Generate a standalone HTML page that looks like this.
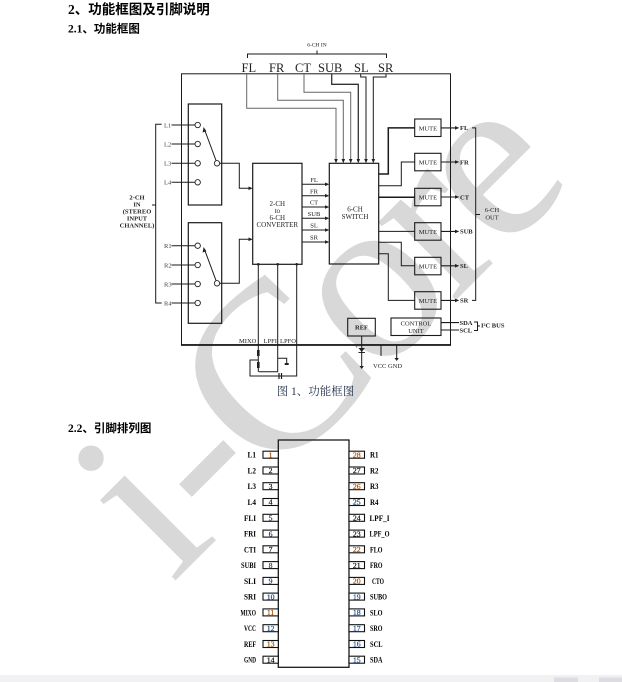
<!DOCTYPE html>
<html>
<head>
<meta charset="utf-8">
<style>
html,body{margin:0;padding:0;background:#fff;}
body{width:622px;height:682px;overflow:hidden;position:relative;}
svg{position:absolute;left:0;top:0;}
.s{font-family:"Liberation Serif",serif;}
.b{font-family:"Liberation Serif",serif;font-weight:bold;}
.h{font-family:"Liberation Serif","Noto Sans CJK SC",sans-serif;font-weight:bold;}
.c{font-family:"Liberation Serif","Noto Serif CJK SC",serif;}
</style>
</head>
<body>
<svg width="622" height="682" viewBox="0 0 622 682" xmlns="http://www.w3.org/2000/svg">
<!-- bottom band -->
<rect x="0" y="675" width="622" height="7" fill="#f1f1f4"/>
<rect x="554" y="677.5" width="24" height="4.5" fill="#dcdce2"/>
<rect x="599" y="677.5" width="23" height="4.5" fill="#dcdce2"/>

<!-- watermark -->
<text class="s" x="172" y="584" transform="rotate(-45 172 584)" font-size="240" fill="#d8d8d8">i-<tspan dx="-6">C</tspan><tspan dx="-12">o</tspan><tspan dx="-12">r</tspan><tspan dx="-12">e</tspan></text>

<!-- headings -->
<text class="h" x="68" y="14" font-size="13.5" fill="#000">2、功能框图及引脚说明</text>
<text class="h" x="68" y="32.5" font-size="11.5" fill="#000">2.1、功能框图</text>
<text class="h" x="68" y="432" font-size="11.5" fill="#000">2.2、引脚排列图</text>

<g stroke="#1a1a1a" fill="none" stroke-width="1">
<!-- 6-CH IN bracket -->
<path d="M247.5,58 V54 H386.5 V58 M317,54 V50.5"/>
<!-- outer box -->
<rect x="181.5" y="73.8" width="269" height="271"/>
<path d="M181,345 H451" stroke-width="1.8"/>
<!-- input lines to switch -->
<path d="M246.7,74 V108.3 H336 V159" stroke="#666"/>
<path d="M277.7,74 V100.3 H343.3 V159" stroke="#666"/>
<path d="M304,74 V92.3 H350.7 V159" stroke="#666"/>
<path d="M331.7,74 V84.3 H358.3 V159" stroke="#333" stroke-width="1.3"/>
<path d="M360.7,74 V77 H366 V159"/>
<path d="M386,74 V77 H373.3 V159"/>
<!-- left switch boxes -->
<rect x="188.3" y="104" width="33.4" height="101" stroke-width="1.2"/>
<rect x="188.3" y="222.7" width="33.4" height="100.6" stroke-width="1.2"/>
<!-- input lines -->
<path d="M171.5,125 H195 M171.5,144 H195 M171.5,163.3 H195 M171.5,182.3 H195"/>
<path d="M171.5,245.7 H195 M171.5,265 H195 M171.5,284 H195 M171.5,303 H195"/>
<!-- wipers -->
<path d="M216,160.5 L204.5,129.5 M216,280.5 L204.5,249.5"/>
<!-- switch outputs -->
<path d="M219.7,163.3 H239.3 V188.3 H249"/>
<path d="M219.7,283.3 H239.3 V239.3 H249"/>
<!-- left bracket -->
<path d="M161.7,124.3 H155.7 V303 H161.7 M155.7,205 H152"/>
<!-- converter -->
<rect x="252.7" y="163.3" width="49.3" height="101" stroke-width="1.2"/>
<!-- converter outputs -->
<path d="M302,184.3 H325 M302,195.7 H325 M302,207 H325 M302,218.3 H325 M302,230 H325 M302,242 H325"/>
<!-- switch -->
<rect x="329.3" y="163.3" width="49.4" height="100.7" stroke-width="1.2"/>
<!-- switch outputs -->
<path d="M378.7,174 H388.3 V127.9 H414.7" stroke-width="1.5"/>
<path d="M378.7,185.7 H401.3 V162 H414.7"/>
<path d="M378.7,197.3 H414.7" stroke-width="1.5"/>
<path d="M378.7,231.4 H414.7"/>
<path d="M378.7,242.3 H401.3 V265.8 H414.7"/>
<path d="M378.7,253.7 H388.3 V300.4 H414.7"/>
<!-- mute boxes -->
<rect x="414.7" y="119" width="26.3" height="17.5" stroke-width="1.1"/>
<rect x="414.7" y="153.3" width="26.3" height="17.5" stroke-width="1.1"/>
<rect x="414.7" y="188.3" width="26.3" height="17.5" stroke-width="1.1"/>
<rect x="414.7" y="222.7" width="26.3" height="17.5" stroke-width="1.1"/>
<rect x="414.7" y="257.3" width="26.3" height="17.5" stroke-width="1.1"/>
<rect x="414.7" y="291.7" width="26.3" height="17.5" stroke-width="1.1"/>
<!-- mute outputs -->
<path d="M441,127.9 H455 M441,162 H455 M441,197 H455 M441,231.4 H455 M441,265.8 H455 M441,300.4 H455" stroke-width="1.1"/>
<!-- right bracket -->
<path d="M472,127.9 H475.7 V300.4 H472 M475.7,214.5 H480"/>
<!-- converter bottom pins -->
<path d="M258.3,264.3 V372 M277.7,264.3 V371.7 H259 M296.7,264.3 V376 H250 V360 H258.3"/>
<path d="M277.7,358.3 H286.7 V364"/>
<path d="M279,373 V379 M281.5,373 V379" stroke-width="1.2"/>
<!-- REF / CONTROL -->
<rect x="347.7" y="318.3" width="27.6" height="17.7" stroke-width="1.1"/>
<rect x="391" y="318" width="50" height="17.5" stroke-width="1.1"/>
<path d="M361.7,336 V368"/>
<path d="M381,345 V356"/>
<path d="M396.7,345 V360"/>
<path d="M441,322.6 H459 M441,330 H459" stroke-width="1.1"/>
<path d="M474,322 H477.5 V330.5 H474 M477.5,326 H480"/>
<!-- pin box -->
<rect x="278.3" y="440" width="70.7" height="227.3" stroke-width="1.3"/>
</g>

<!-- resistors / small parts -->
<g fill="#222">
<rect x="257" y="350" width="2.6" height="6"/>
<rect x="257" y="362" width="2.6" height="6"/>
<rect x="284.7" y="363" width="4" height="2"/>
<polygon points="358.5,348 364.9,348 361.7,352"/>
<rect x="358.5" y="352" width="6.4" height="1"/>
<polygon points="359.5,366 363.9,366 361.7,369"/>
<polygon points="394.5,358 398.9,358 396.7,361"/>
<!-- dots -->
<circle cx="258.3" cy="264.3" r="1.3"/>
<circle cx="277.7" cy="264.3" r="1.3"/>
<circle cx="296.7" cy="264.3" r="1.3"/>
<!-- down arrows into switch -->
<polygon points="334.2,159 337.8,159 336,163.3"/>
<polygon points="341.5,159 345.1,159 343.3,163.3"/>
<polygon points="348.9,159 352.5,159 350.7,163.3"/>
<polygon points="356.5,159 360.1,159 358.3,163.3"/>
<polygon points="364.2,159 367.8,159 366,163.3"/>
<polygon points="371.5,159 375.1,159 373.3,163.3"/>
<!-- converter input arrows -->
<polygon points="248.5,186.5 252.7,188.3 248.5,190.1"/>
<polygon points="248.5,237.5 252.7,239.3 248.5,241.1"/>
<!-- converter output arrows -->
<polygon points="325,182.5 329.3,184.3 325,186.1"/>
<polygon points="325,193.9 329.3,195.7 325,197.5"/>
<polygon points="325,205.2 329.3,207 325,208.8"/>
<polygon points="325,216.5 329.3,218.3 325,220.1"/>
<polygon points="325,228.2 329.3,230 325,231.8"/>
<polygon points="325,240.2 329.3,242 325,243.8"/>
<!-- mute output arrows -->
<polygon points="455,126.1 459.3,127.9 455,129.7"/>
<polygon points="455,160.2 459.3,162 455,163.8"/>
<polygon points="455,195.2 459.3,197 455,198.8"/>
<polygon points="455,229.6 459.3,231.4 455,233.2"/>
<polygon points="455,264 459.3,265.8 455,267.6"/>
<polygon points="455,298.6 459.3,300.4 455,302.2"/>
<!-- wiper arrowheads -->
<polygon points="203.6,127 202.6,132.5 206.4,131.3"/>
<polygon points="203.6,247 202.6,252.5 206.4,251.3"/>
</g>

<!-- contact circles -->
<g fill="#fff" stroke="#222" stroke-width="0.9">
<circle cx="197.7" cy="125" r="2.7"/>
<circle cx="197.7" cy="144" r="2.7"/>
<circle cx="197.7" cy="163.3" r="2.7"/>
<circle cx="197.7" cy="182.3" r="2.7"/>
<circle cx="217" cy="163.3" r="2.7"/>
<circle cx="197.7" cy="245.7" r="2.7"/>
<circle cx="197.7" cy="265" r="2.7"/>
<circle cx="197.7" cy="284" r="2.7"/>
<circle cx="197.7" cy="303" r="2.7"/>
<circle cx="217" cy="283.3" r="2.7"/>
</g>

<!-- diagram text -->
<g class="s" fill="#222">
<text x="317" y="46.5" font-size="5.5" text-anchor="middle">6-CH IN</text>
<text x="241.5" y="72" font-size="12.5">FL</text>
<text x="269" y="72" font-size="12.5">FR</text>
<text x="295" y="72" font-size="12.5">CT</text>
<text x="318" y="72" font-size="12.5">SUB</text>
<text x="354" y="72" font-size="12.5">SL</text>
<text x="378" y="72" font-size="12.5">SR</text>

<g font-size="6.5" fill="#444">
<text x="164" y="127.3">L1</text>
<text x="164" y="146.3">L2</text>
<text x="164" y="165.6">L3</text>
<text x="164" y="184.6">L4</text>
<text x="164" y="248">R1</text>
<text x="164" y="267.3">R2</text>
<text x="164" y="286.3">R3</text>
<text x="164" y="305.3">R4</text>
</g>

<g font-size="7" text-anchor="middle">
<text x="277.3" y="206">2-CH</text>
<text x="277.3" y="213">to</text>
<text x="277.3" y="220">6-CH</text>
<text x="277.3" y="227">CONVERTER</text>
<text x="355" y="211.5">6-CH</text>
<text x="355" y="219">SWITCH</text>
</g>
<g font-size="6.5" text-anchor="middle">
<text x="314" y="182">FL</text>
<text x="314" y="193.4">FR</text>
<text x="314" y="204.7">CT</text>
<text x="314" y="216">SUB</text>
<text x="314" y="227.7">SL</text>
<text x="314" y="239.7">SR</text>
<text x="427.9" y="130.3">MUTE</text>
<text x="427.9" y="164.6">MUTE</text>
<text x="427.9" y="199.6">MUTE</text>
<text x="427.9" y="234">MUTE</text>
<text x="427.9" y="268.6">MUTE</text>
<text x="427.9" y="303">MUTE</text>
<text x="492" y="212.2">6-CH</text>
<text x="492" y="219.5">OUT</text>
<text x="361.5" y="329.6" font-weight="bold">REF</text>
<text x="416" y="325.3">CONTROL</text>
<text x="416" y="333">UNIT</text>
</g>
<g font-size="6.5" font-weight="bold">
<text x="460" y="130.2">FL</text>
<text x="460" y="164.3">FR</text>
<text x="460" y="199.3">CT</text>
<text x="460" y="233.7">SUB</text>
<text x="460" y="268.1">SL</text>
<text x="460" y="302.7">SR</text>
<text x="459.5" y="325">SDA</text>
<text x="459.5" y="332.5">SCL</text>
<text x="481" y="327.5">I²C BUS</text>
</g>
<g font-size="6.5">
<text x="239" y="343">MIXO</text>
<text x="263.5" y="343">LPFI</text>
<text x="280" y="343">LPFO</text>
<text x="373" y="368">VCC GND</text>
<text x="355" y="349" font-size="6">+</text>
</g>
<g class="b" font-size="6.5" text-anchor="middle">
<text x="137" y="199.5">2-CH</text>
<text x="137" y="206.5">IN</text>
<text x="137" y="213.5">(STEREO</text>
<text x="137" y="220.5">INPUT</text>
<text x="137" y="227.5">CHANNEL)</text>
</g>
</g>

<text class="c" x="276.7" y="395" font-size="11.5" fill="#2a3550">图 1、功能框图</text>

<!-- pin boxes -->
<g fill="#fff" stroke="#111" stroke-width="1.1">
<rect x="263" y="451.2" width="15.3" height="7"/>
<rect x="263" y="467" width="15.3" height="7"/>
<rect x="263" y="482.7" width="15.3" height="7"/>
<rect x="263" y="498.5" width="15.3" height="7"/>
<rect x="263" y="514.3" width="15.3" height="7"/>
<rect x="263" y="530.1" width="15.3" height="7"/>
<rect x="263" y="545.8" width="15.3" height="7"/>
<rect x="263" y="561.6" width="15.3" height="7"/>
<rect x="263" y="577.4" width="15.3" height="7"/>
<rect x="263" y="593.1" width="15.3" height="7"/>
<rect x="263" y="608.9" width="15.3" height="7"/>
<rect x="263" y="624.7" width="15.3" height="7"/>
<rect x="263" y="640.5" width="15.3" height="7"/>
<rect x="263" y="656.2" width="15.3" height="7"/>
<rect x="349" y="451.2" width="15.5" height="7"/>
<rect x="349" y="467" width="15.5" height="7"/>
<rect x="349" y="482.7" width="15.5" height="7"/>
<rect x="349" y="498.5" width="15.5" height="7"/>
<rect x="349" y="514.3" width="15.5" height="7"/>
<rect x="349" y="530.1" width="15.5" height="7"/>
<rect x="349" y="545.8" width="15.5" height="7"/>
<rect x="349" y="561.6" width="15.5" height="7"/>
<rect x="349" y="577.4" width="15.5" height="7"/>
<rect x="349" y="593.1" width="15.5" height="7"/>
<rect x="349" y="608.9" width="15.5" height="7"/>
<rect x="349" y="624.7" width="15.5" height="7"/>
<rect x="349" y="640.5" width="15.5" height="7"/>
<rect x="349" y="656.2" width="15.5" height="7"/>
</g>

<!-- pin numbers -->
<g class="s" font-size="7.8" text-anchor="middle" stroke-width="0.2">
<text x="270.6" y="457.4" fill="#a84e00" stroke="#a84e00">1</text>
<text x="270.6" y="473.2" fill="#111" stroke="#111">2</text>
<text x="270.6" y="488.9" fill="#111" stroke="#111">3</text>
<text x="270.6" y="504.7" fill="#111" stroke="#111">4</text>
<text x="270.6" y="520.5" fill="#1a3a70" stroke="#1a3a70">5</text>
<text x="270.6" y="536.3" fill="#1a3a70" stroke="#1a3a70">6</text>
<text x="270.6" y="552" fill="#111" stroke="#111">7</text>
<text x="270.6" y="567.8" fill="#1a4a8a" stroke="#1a4a8a">8</text>
<text x="270.6" y="583.6" fill="#1a4a8a" stroke="#1a4a8a">9</text>
<text x="270.6" y="599.3" fill="#1a4a8a" stroke="#1a4a8a">10</text>
<text x="270.6" y="615.1" fill="#a84e00" stroke="#a84e00">11</text>
<text x="270.6" y="630.9" fill="#1a4a8a" stroke="#1a4a8a">12</text>
<text x="270.6" y="646.7" fill="#a84e00" stroke="#a84e00">13</text>
<text x="270.6" y="662.4" fill="#111" stroke="#111">14</text>
<text x="356.8" y="457.4" fill="#a84e00" stroke="#a84e00">28</text>
<text x="356.8" y="473.2" fill="#111" stroke="#111">27</text>
<text x="356.8" y="488.9" fill="#a84e00" stroke="#a84e00">26</text>
<text x="356.8" y="504.7" fill="#1a3a70" stroke="#1a3a70">25</text>
<text x="356.8" y="520.5" fill="#111" stroke="#111">24</text>
<text x="356.8" y="536.3" fill="#111" stroke="#111">23</text>
<text x="356.8" y="552" fill="#a84e00" stroke="#a84e00">22</text>
<text x="356.8" y="567.8" fill="#111" stroke="#111">21</text>
<text x="356.8" y="583.6" fill="#a84e00" stroke="#a84e00">20</text>
<text x="356.8" y="599.3" fill="#1a4a8a" stroke="#1a4a8a">19</text>
<text x="356.8" y="615.1" fill="#1a4a8a" stroke="#1a4a8a">18</text>
<text x="356.8" y="630.9" fill="#1a4a8a" stroke="#1a4a8a">17</text>
<text x="356.8" y="646.7" fill="#1a4a8a" stroke="#1a4a8a">16</text>
<text x="356.8" y="662.4" fill="#1a4a8a" stroke="#1a4a8a">15</text>
</g>

<!-- pin labels -->
<g class="b" font-size="8.5" fill="#000">
<text x="247.5" y="457.7" textLength="8.5" lengthAdjust="spacingAndGlyphs">L1</text>
<text x="247.5" y="473.5" textLength="8.5" lengthAdjust="spacingAndGlyphs">L2</text>
<text x="247.5" y="489.2" textLength="8.5" lengthAdjust="spacingAndGlyphs">L3</text>
<text x="247.5" y="505" textLength="8.5" lengthAdjust="spacingAndGlyphs">L4</text>
<text x="244" y="520.8" textLength="12" lengthAdjust="spacingAndGlyphs">FLI</text>
<text x="244" y="536.6" textLength="12" lengthAdjust="spacingAndGlyphs">FRI</text>
<text x="244" y="552.3" textLength="12" lengthAdjust="spacingAndGlyphs">CTI</text>
<text x="241" y="568.1" textLength="15" lengthAdjust="spacingAndGlyphs">SUBI</text>
<text x="244" y="583.9" textLength="12" lengthAdjust="spacingAndGlyphs">SLI</text>
<text x="244" y="599.6" textLength="12" lengthAdjust="spacingAndGlyphs">SRI</text>
<text x="240.5" y="615.4" textLength="15.5" lengthAdjust="spacingAndGlyphs">MIXO</text>
<text x="244" y="631.2" textLength="12" lengthAdjust="spacingAndGlyphs">VCC</text>
<text x="244" y="647" textLength="12" lengthAdjust="spacingAndGlyphs">REF</text>
<text x="244" y="662.7" textLength="12" lengthAdjust="spacingAndGlyphs">GND</text>

<text x="370" y="457.7" textLength="8.5" lengthAdjust="spacingAndGlyphs">R1</text>
<text x="370" y="473.5" textLength="8.5" lengthAdjust="spacingAndGlyphs">R2</text>
<text x="370" y="489.2" textLength="8.5" lengthAdjust="spacingAndGlyphs">R3</text>
<text x="370" y="505" textLength="8.5" lengthAdjust="spacingAndGlyphs">R4</text>
<text x="369.5" y="520.8" textLength="20" lengthAdjust="spacingAndGlyphs">LPF_I</text>
<text x="369.5" y="536.6" textLength="20" lengthAdjust="spacingAndGlyphs">LPF_O</text>
<text x="370" y="552.3" textLength="12.5" lengthAdjust="spacingAndGlyphs">FLO</text>
<text x="370" y="568.1" textLength="12.5" lengthAdjust="spacingAndGlyphs">FRO</text>
<text x="372" y="583.9" textLength="12" lengthAdjust="spacingAndGlyphs">CTO</text>
<text x="370" y="599.6" textLength="17" lengthAdjust="spacingAndGlyphs">SUBO</text>
<text x="370" y="615.4" textLength="12.5" lengthAdjust="spacingAndGlyphs">SLO</text>
<text x="370" y="631.2" textLength="12.5" lengthAdjust="spacingAndGlyphs">SRO</text>
<text x="370" y="647" textLength="12.5" lengthAdjust="spacingAndGlyphs">SCL</text>
<text x="370" y="662.7" textLength="12.5" lengthAdjust="spacingAndGlyphs">SDA</text>
</g>
</svg>
</body>
</html>
